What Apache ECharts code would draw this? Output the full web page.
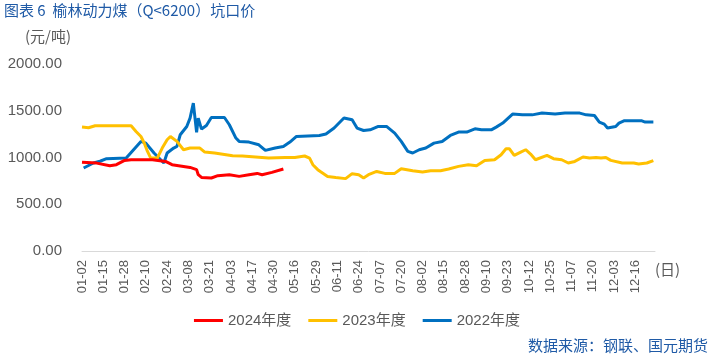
<!DOCTYPE html>
<html>
<head>
<meta charset="utf-8">
<script src="https://cdn.jsdelivr.net/npm/echarts@6/dist/echarts.min.js"></script>
<style>
html,body{margin:0;padding:0;background:#fff;}
#c{width:714px;height:359px;}
</style>
</head>
<body>
<div id="c"></div>
<script>
// ---- data ----
const titleText = '图表 6  榆林动力煤（Q<6200）坑口价';
const unitText = '(元/吨)';
const xUnitText = '(日)';
const sourceText = '数据来源：钢联、国元期货';
const seriesNames = ['2024年度', '2023年度', '2022年度'];
const yTicks = [0, 500, 1000, 1500, 2000];

// category dates (2024 calendar, holidays absent in the source)
const monthDays = [31, 29, 31, 30, 31, 30, 31, 31, 30, 31, 30, 31];
const skippedDates = ['02-12', '04-04', '05-01', '05-02', '05-03',
  '10-01', '10-02', '10-03', '10-04', '10-05', '10-06'];
const firstDate = '01-02';
const lastDate = '12-28';
const categories = [];
(function () {
  let on = false;
  for (let m = 1; m <= 12; m++) {
    for (let d = 1; d <= monthDays[m - 1]; d++) {
      const s = String(m).padStart(2, '0') + '-' + String(d).padStart(2, '0');
      if (s === firstDate) on = true;
      if (on && skippedDates.indexOf(s) < 0) categories.push(s);
      if (s === lastDate) return;
    }
  }
})();

const data2024 = [
  ['01-02', 950], ['01-11', 940], ['01-19', 912], ['01-23', 923], ['01-28', 969],
  ['02-01', 976], ['02-15', 976], ['02-23', 958], ['02-27', 923], ['03-09', 894],
  ['03-13', 870], ['03-14', 816], ['03-16', 787], ['03-22', 781], ['03-26', 806],
  ['04-02', 816], ['04-09', 798], ['04-15', 816], ['04-20', 830], ['04-23', 816],
  ['04-29', 841], ['05-09', 877]
];
const data2023 = [
  ['01-02', 1325], ['01-06', 1318], ['01-10', 1339], ['02-01', 1339], ['02-04', 1278],
  ['02-07', 1225], ['02-09', 1155], ['02-11', 1065], ['02-14', 994], ['02-18', 994],
  ['02-21', 1101], ['02-24', 1190], ['02-26', 1225], ['03-01', 1172], ['03-05', 1083],
  ['03-09', 1101], ['03-15', 1101], ['03-18', 1058], ['03-24', 1048], ['04-05', 1019],
  ['04-11', 1016], ['04-17', 1008], ['04-27', 994], ['05-10', 1001], ['05-16', 1001],
  ['05-22', 1016], ['05-25', 994], ['05-27', 923], ['05-30', 870], ['06-01', 845],
  ['06-05', 798], ['06-10', 787], ['06-16', 774], ['06-20', 827], ['06-24', 816],
  ['06-27', 781], ['06-30', 816], ['07-05', 851], ['07-10', 830], ['07-16', 830],
  ['07-20', 880], ['07-27', 859], ['08-02', 845], ['08-07', 859], ['08-13', 859],
  ['08-18', 877], ['08-24', 905], ['08-30', 923], ['09-04', 912], ['09-09', 969],
  ['09-15', 976], ['09-19', 1030], ['09-22', 1094], ['09-24', 1094], ['09-27', 1022],
  ['10-07', 1058], ['10-10', 1083], ['10-13', 1037], ['10-16', 976], ['10-23', 1022],
  ['10-27', 987], ['11-01', 976], ['11-05', 941], ['11-09', 958], ['11-14', 1005],
  ['11-18', 994], ['11-22', 1001], ['11-25', 994], ['11-28', 1001], ['12-01', 969],
  ['12-08', 941], ['12-15', 941], ['12-18', 930], ['12-23', 941], ['12-27', 966]
];
const data2022 = [
  ['01-03', 888], ['01-09', 941], ['01-13', 960], ['01-17', 987], ['01-29', 994],
  ['02-07', 1172], ['02-10', 1154], ['02-16', 1048], ['02-22', 941], ['02-24', 1048],
  ['02-28', 1101], ['03-01', 1118], ['03-03', 1243], ['03-07', 1332], ['03-09', 1421],
  ['03-11', 1581], ['03-13', 1268], ['03-14', 1421], ['03-16', 1304], ['03-19', 1342],
  ['03-22', 1428], ['03-30', 1428], ['04-02', 1350], ['04-07', 1208], ['04-09', 1172],
  ['04-15', 1165], ['04-21', 1136], ['04-25', 1076], ['05-04', 1101], ['05-09', 1118],
  ['05-13', 1165], ['05-17', 1225], ['05-31', 1236], ['06-04', 1251], ['06-09', 1315],
  ['06-15', 1423], ['06-20', 1403], ['06-23', 1315], ['06-27', 1289], ['07-01', 1296],
  ['07-06', 1332], ['07-11', 1332], ['07-16', 1261], ['07-20', 1172], ['07-24', 1065],
  ['07-27', 1048], ['07-31', 1083], ['08-04', 1101], ['08-09', 1154], ['08-14', 1172],
  ['08-19', 1236], ['08-24', 1272], ['08-29', 1272], ['09-03', 1307], ['09-07', 1296],
  ['09-13', 1296], ['09-16', 1325], ['09-20', 1368], ['09-26', 1464], ['10-08', 1456],
  ['10-14', 1456], ['10-20', 1475], ['10-28', 1464], ['11-03', 1475], ['11-12', 1475],
  ['11-16', 1456], ['11-21', 1449], ['11-24', 1379], ['11-27', 1357], ['11-29', 1315],
  ['12-04', 1332], ['12-06', 1368], ['12-09', 1392], ['12-20', 1392], ['12-22', 1379],
  ['12-27', 1379]
];
const colors = ['#FF0000', '#FFC000', '#0070C0'];

// ---- chart ----
const chart = echarts.init(document.getElementById('c'), null, {renderer: 'canvas'});
const gray = '#595959';
const blueText = '#1F5AA6';
const txtFont = '"Liberation Sans", "Noto Sans CJK SC", sans-serif';

function lineSeries(name, data, color, z) {
  return {
    name: name, type: 'line', data: data, showSymbol: false, symbol: 'none',
    lineStyle: {color: color, width: 3}, itemStyle: {color: color},
    z: z, animation: false
  };
}

chart.setOption({
  animation: false,
  textStyle: {fontFamily: txtFont},
  grid: {left: 82, right: 59, top: 64, bottom: 108, containLabel: false},
  xAxis: {
    type: 'category', data: categories, boundaryGap: false,
    axisLine: {lineStyle: {color: '#D9D9D9', width: 1}},
    axisTick: {show: false},
    axisLabel: {rotate: 90, interval: 12, color: gray, fontSize: 13, margin: 9, fontFamily: txtFont},
    splitLine: {show: false}
  },
  yAxis: {
    type: 'value', min: yTicks[0], max: yTicks[yTicks.length - 1], interval: 500,
    axisLine: {show: false}, axisTick: {show: false}, splitLine: {show: false},
    axisLabel: {color: gray, fontSize: 15, margin: 20, fontFamily: txtFont,
      formatter: v => v.toFixed(2)}
  },
  legend: {
    data: seriesNames, left: 'center', top: 308, icon: 'rect',
    itemWidth: 29, itemHeight: 3, itemGap: 17,
    textStyle: {color: gray, fontSize: 15, fontFamily: txtFont}
  },
  graphic: [
    {type: 'text', left: 4, top: 3, style: {text: titleText, fill: blueText, font: '15px "Noto Sans CJK SC", sans-serif'}},
    {type: 'text', left: 25, top: 29, style: {text: unitText, fill: gray, font: '15px "Noto Sans CJK SC", sans-serif'}},
    {type: 'text', left: 655, top: 262, style: {text: xUnitText, fill: gray, font: '15px "Noto Sans CJK SC", sans-serif'}},
    {type: 'text', right: 6, top: 338, style: {text: sourceText, fill: blueText, font: '15px "Noto Sans CJK SC", sans-serif'}}
  ],
  series: [
    lineSeries(seriesNames[2], data2022, colors[2], 2),
    lineSeries(seriesNames[1], data2023, colors[1], 3),
    lineSeries(seriesNames[0], data2024, colors[0], 4)
  ]
});
</script>
</body>
</html>
